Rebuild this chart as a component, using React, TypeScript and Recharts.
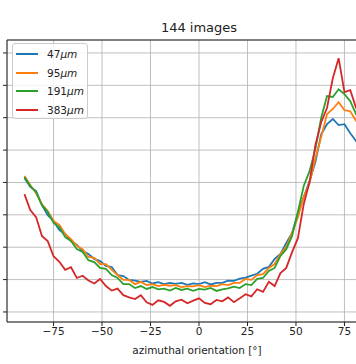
import React from "react";
import { LineChart, Line, XAxis, YAxis, CartesianGrid, ReferenceArea } from "recharts";

// azimuthal orientation in degrees
const angles = [
  -90, -87, -84, -81, -78, -75, -72, -69, -66, -63, -60, -57, -54, -51, -48, -45, -42, -39, -36, -33, -30,
  -27, -24, -21, -18, -15, -12, -9, -6, -3, 0, 3, 6, 9, 12, 15, 18, 21, 24, 27, 30,
  33, 36, 39, 42, 45, 48, 51, 54, 57, 60, 63, 66, 69, 72, 75, 78, 81, 84, 87, 90,
];

const s47 = [
  4.14, 3.86, 3.73, 3.3, 2.99, 2.81, 2.53, 2.41, 2.19, 2.07, 1.88, 1.79, 1.64, 1.57, 1.42, 1.39, 1.14, 1.11, 0.99, 0.97, 0.93,
  0.96, 0.88, 0.92, 0.86, 0.9, 0.87, 0.9, 0.84, 0.88, 0.86, 0.92, 0.85, 0.9, 0.9, 0.97, 0.96, 1.03, 1.06, 1.12, 1.18,
  1.33, 1.39, 1.64, 1.79, 2.13, 2.44, 3.06, 3.55, 4.04, 4.63, 5.49, 5.8, 5.96, 5.77, 5.8, 5.52, 5.28, 4.97, 4.85, 4.6,
];

const s95 = [
  4.2, 3.92, 3.67, 3.33, 3.12, 2.81, 2.69, 2.41, 2.25, 2.04, 1.94, 1.7, 1.67, 1.48, 1.48, 1.3, 1.14, 0.99, 0.99, 0.86, 0.93,
  0.83, 0.86, 0.8, 0.84, 0.81, 0.83, 0.77, 0.8, 0.79, 0.83, 0.77, 0.81, 0.8, 0.86, 0.83, 0.9, 0.9, 1.02, 0.99, 1.14,
  1.17, 1.36, 1.48, 1.79, 2.01, 2.44, 2.93, 3.55, 3.98, 4.75, 5.4, 6.11, 6.27, 6.48, 6.23, 6.2, 5.9, 5.71, 5.4, 5.22,
];

const s191 = [
  4.17, 3.89, 3.7, 3.3, 3.09, 2.75, 2.62, 2.31, 2.19, 1.94, 1.85, 1.6, 1.54, 1.36, 1.33, 1.14, 1.05, 0.86, 0.86, 0.74, 0.8,
  0.71, 0.77, 0.7, 0.72, 0.66, 0.74, 0.68, 0.72, 0.65, 0.71, 0.69, 0.74, 0.65, 0.7, 0.73, 0.78, 0.74, 0.86, 0.83, 1.02,
  1.05, 1.27, 1.36, 1.73, 1.94, 2.35, 3.09, 3.89, 4.35, 5.03, 5.99, 6.67, 6.64, 6.88, 6.73, 6.51, 6.11, 5.9, 5.59, 5.4,
];

const s383 = [
  3.64, 3.15, 2.93, 2.35, 2.19, 1.72, 1.55, 1.3, 1.38, 1.05, 1.12, 0.97, 0.88, 1.02, 0.8, 0.66, 0.72, 0.52, 0.45, 0.4, 0.52,
  0.3, 0.22, 0.36, 0.31, 0.19, 0.33, 0.38, 0.27, 0.35, 0.42, 0.28, 0.24, 0.37, 0.33, 0.45, 0.3, 0.42, 0.55, 0.48, 0.7,
  0.62, 0.93, 0.8, 1.2, 1.36, 1.85, 2.28, 3.33, 4.01, 5.15, 5.86, 6.3, 7.22, 7.84, 6.79, 6.85, 6.3, 6.14, 5.71, 5.52,
];

const xTicks = [-75, -50, -25, 0, 25, 50, 75];
const yTicks = [0, 1, 2, 3, 4, 5, 6, 7, 8];

const legendItems = [
  { key: "s47", size: "47", color: "#1f77b4" },
  { key: "s95", size: "95", color: "#ff7f0e" },
  { key: "s191", size: "191", color: "#2ca02c" },
  { key: "s383", size: "383", color: "#d62728" },
];

const data = angles.map((angle, i) => ({
  angle,
  s47: s47[i],
  s95: s95[i],
  s191: s191[i],
  s383: s383[i],
}));

const font = "'DejaVu Sans', sans-serif";

export default function App() {
  return (
    <div
      style={{
        position: "absolute",
        left: 0,
        top: 0,
        width: 356,
        height: 364,
        overflow: "hidden",
        background: "#fff",
        fontFamily: font,
      }}
    >
      <LineChart width={400} height={364} data={data} margin={{ top: 40, right: 9, bottom: 0, left: 0 }}>
        <CartesianGrid stroke="#b0b0b0" strokeWidth={0.8} />
        <XAxis
          dataKey="angle"
          type="number"
          domain={[-99, 99]}
          ticks={xTicks}
          allowDataOverflow
          height={42}
          tickSize={4}
          tickMargin={2}
          axisLine={false}
          tickLine={{ stroke: "#222" }}
          tick={{ fill: "#222", fontSize: 10.5, fontFamily: font }}
          tickFormatter={(v: number) => String(v).replace("-", "\u2212")}
        />
        <YAxis
          type="number"
          domain={[-0.31, 8.4]}
          ticks={yTicks}
          allowDataOverflow
          width={7}
          tickSize={4}
          axisLine={false}
          tickLine={{ stroke: "#222" }}
          tick={() => <g />}
        />
        <ReferenceArea x1={-99} x2={99} y1={-0.31} y2={8.4} fill="none" stroke="#222" strokeWidth={1} ifOverflow="visible" />
        {legendItems.map((item) => (
          <Line
            key={item.key}
            dataKey={item.key}
            type="linear"
            stroke={item.color}
            strokeWidth={1.8}
            dot={false}
            isAnimationActive={false}
          />
        ))}
      </LineChart>

      <div
        style={{
          position: "absolute",
          left: 0,
          width: 398,
          top: 20,
          textAlign: "center",
          fontSize: 13,
          lineHeight: "15px",
          color: "#222",
        }}
      >
        144 images
      </div>

      <div
        style={{
          position: "absolute",
          left: 0,
          width: 394,
          top: 343,
          textAlign: "center",
          fontSize: 10.5,
          lineHeight: "14px",
          color: "#222",
        }}
      >
        azimuthal orientation [°]
      </div>

      <div
        style={{
          position: "absolute",
          left: 12,
          top: 43,
          width: 74,
          height: 74,
          border: "1px solid #cccccc",
          borderRadius: 3,
          background: "rgba(255,255,255,0.8)",
        }}
      >
        {legendItems.map((item, i) => (
          <div
            key={item.key}
            style={{
              position: "absolute",
              left: 3,
              top: 3 + i * 18.7,
              height: 14,
              display: "flex",
              alignItems: "center",
              fontSize: 10.5,
              color: "#222",
            }}
          >
            <span style={{ display: "inline-block", width: 22, height: 2, background: item.color, marginRight: 9 }} />
            <span>
              {item.size}
              <span style={{ fontStyle: "italic" }}>μm</span>
            </span>
          </div>
        ))}
      </div>
    </div>
  );
}
